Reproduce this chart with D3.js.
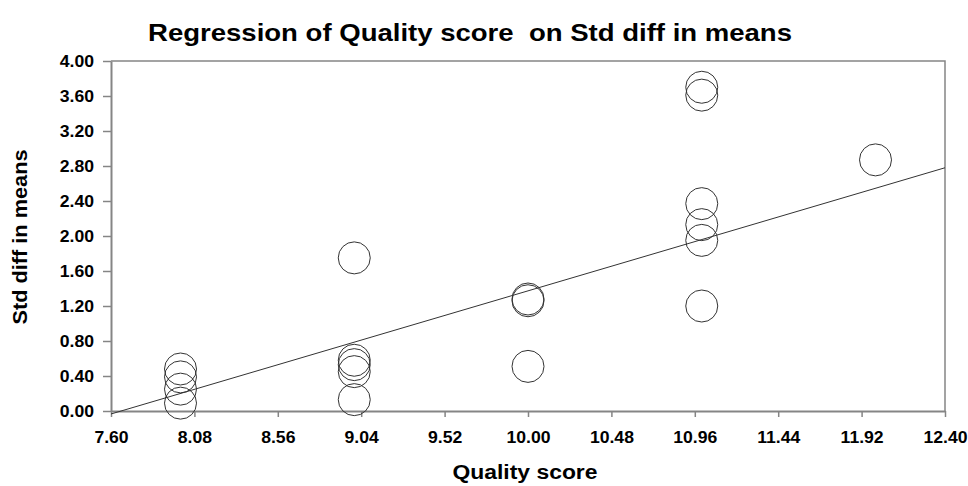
<!DOCTYPE html>
<html>
<head>
<meta charset="utf-8">
<script src="https://cdn.jsdelivr.net/npm/d3@7"></script>
<style>
  body { margin: 0; background: #fff; }
  svg { display: block; font-family: "Liberation Sans", Arial, sans-serif; }
</style>
</head>
<body>
<div id="chart"></div>
<script>
// values
const qualityScore = [8, 8, 8, 8, 9, 9, 9, 9, 9, 10, 10, 10, 11, 11, 11, 11, 11, 11, 12];
const stdDiff = [0.48, 0.39, 0.25, 0.09, 1.75, 0.58, 0.53, 0.45, 0.13, 1.28, 1.26, 0.51, 3.70, 3.61, 2.37, 2.13, 1.95, 1.20, 2.87];
const xTicks = [7.60, 8.08, 8.56, 9.04, 9.52, 10.00, 10.48, 10.96, 11.44, 11.92, 12.40];
const yTicks = [0.00, 0.40, 0.80, 1.20, 1.60, 2.00, 2.40, 2.80, 3.20, 3.60, 4.00];
// regression line end points
const regX = [7.60, 12.40];
const regY = [-0.034, 2.78];

const W = 968, H = 486;
const margin = { top: 61, right: 23, bottom: 75, left: 111 };

const svg = d3.select('#chart').append('svg')
    .attr('width', W).attr('height', H);

const x = d3.scaleLinear().domain([7.6, 12.4]).range([margin.left, W - margin.right]);
const y = d3.scaleLinear().domain([0, 4]).range([H - margin.bottom, margin.top]);

const axisColor = '#858585';

// frame: top and right
svg.append('path')
    .attr('d', `M${x(7.6)},${y(4)}H${x(12.4)}V${y(0)}`)
    .attr('fill', 'none')
    .attr('stroke', axisColor)
    .attr('stroke-width', 1.5);

// axes
const xAxis = svg.append('g')
    .attr('transform', `translate(0,${y(0)})`)
    .call(d3.axisBottom(x).tickValues(xTicks).tickSize(6).tickSizeOuter(0).tickPadding(15).tickFormat(d3.format('.2f')));

const yAxis = svg.append('g')
    .attr('transform', `translate(${x(7.6)},0)`)
    .call(d3.axisLeft(y).tickValues(yTicks).tickSize(8).tickSizeOuter(0).tickPadding(9).tickFormat(d3.format('.2f')));

[xAxis, yAxis].forEach(ax => {
    ax.select('.domain').attr('stroke', axisColor).attr('stroke-width', 2);
    ax.selectAll('.tick line').attr('stroke', axisColor).attr('stroke-width', 1.5);
    ax.selectAll('text')
        .attr('fill', '#000')
        .attr('font-size', '16px')
        .attr('font-weight', 'bold')
        .attr('font-family', '"Liberation Sans", Arial, sans-serif')
        // labels in the reference are a little wider than the font
        .each(function() {
            const w = this.getComputedTextLength();
            d3.select(this).attr('textLength', w * 1.1).attr('lengthAdjust', 'spacingAndGlyphs');
        });
});
yAxis.selectAll('text').attr('dy', '0.36em');

// regression line
svg.append('line')
    .attr('x1', x(regX[0])).attr('y1', y(regY[0]))
    .attr('x2', x(regX[1])).attr('y2', y(regY[1]))
    .attr('stroke', '#333')
    .attr('stroke-width', 1);

// points
svg.append('g')
    .selectAll('circle')
    .data(qualityScore.map((q, i) => ({ q, s: stdDiff[i] })))
    .join('circle')
        .attr('cx', d => x(d.q))
        .attr('cy', d => y(d.s))
        .attr('r', 16)
        .attr('fill', 'none')
        .attr('stroke', '#333')
        .attr('stroke-width', 1);

// titles
svg.append('text')
    .attr('x', 470).attr('y', 41)
    .attr('text-anchor', 'middle')
    .attr('font-size', '24px')
    .attr('font-weight', 'bold')
    .attr('textLength', 644)
    .attr('lengthAdjust', 'spacingAndGlyphs')
    .style('white-space', 'pre')
    .text('Regression of Quality score  on Std diff in means');

svg.append('text')
    .attr('x', 525).attr('y', 479)
    .attr('text-anchor', 'middle')
    .attr('font-size', '20px')
    .attr('font-weight', 'bold')
    .attr('textLength', 145)
    .attr('lengthAdjust', 'spacingAndGlyphs')
    .text('Quality score');

svg.append('text')
    .attr('transform', 'rotate(-90)')
    .attr('x', -237).attr('y', 27)
    .attr('text-anchor', 'middle')
    .attr('font-size', '20px')
    .attr('font-weight', 'bold')
    .attr('textLength', 175)
    .attr('lengthAdjust', 'spacingAndGlyphs')
    .text('Std diff in means');
</script>
</body>
</html>
